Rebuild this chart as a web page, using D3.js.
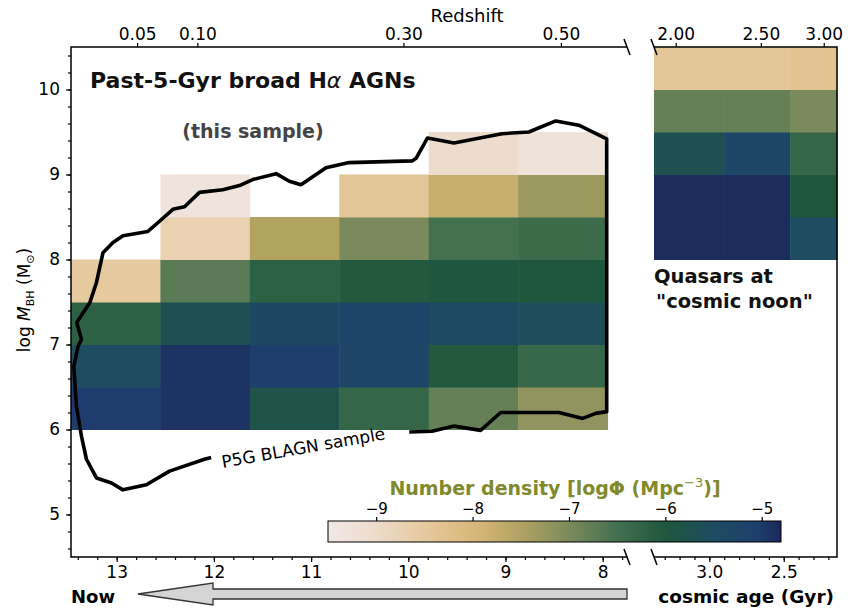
<!DOCTYPE html>
<html>
<head>
<meta charset="UTF-8">
<title></title>
<style>
  body { margin: 0; background: #fff; }
  svg text { font-family: "DejaVu Sans", sans-serif; }
  .axis path, .axis line { fill: none; stroke: #000; stroke-width: 1.2; }
  .axis text { font-size: 17px; fill: #000; }
  .minor path { display: none; }
  .minor line { stroke: #000; }
</style>
</head>
<body>
<script src="https://cdn.jsdelivr.net/npm/d3@7/dist/d3.min.js"></script>
<script>
// --- data ---------------------------------------------------------------
// main panel: bins in cosmic age (Gyr) and log M_BH
var ageEdges = [13.47, 12.55, 11.63, 10.71, 9.79, 8.87, 7.95];
var massEdges = [6.0, 6.5, 7.0, 7.5, 8.0, 8.5, 9.0, 9.5];
// log Phi per column (left -> right), rows from logM 6.0 upward, null = empty
var density = [
  [-5.0, -5.5, -6.2, -8.5, null, null, null],
  [-4.9, -4.9, -5.7, -6.7, -8.7, -9.3, null],
  [-5.8, -5.05, -5.35, -6.2, -7.5, null, null],
  [-6.3, -5.25, -5.2, -6.05, -7.0, -8.4, null],
  [-6.8, -6.05, -5.4, -5.95, -6.5, -7.75, -9.0],
  [-7.2, -6.35, -5.6, -6.0, -6.4, -7.3, -9.25]
];

// right panel: quasars at cosmic noon
var qsoAgeEdges = [3.372, 2.901, 2.457, 2.142];
var qsoMassEdges = [8.0, 8.5, 9.0, 9.5, 10.0, 10.5];
var qsoDensity = [
  [-4.85, -4.85, -5.7, -6.8, -8.4],
  [-4.85, -4.85, -5.3, -6.8, -8.4],
  [-5.5, -6.0, -6.3, -7.0, -8.3]
];

// redshift tick labels and the cosmic age they sit at
var zLabels = ["0.05", "0.10", "0.30", "0.50"];
var zAges = [12.79, 12.17, 10.05, 8.43];
var zLabelsQ = ["2.00", "2.50", "3.00"];
var zAgesQ = [3.226, 2.654, 2.231];

var ageTicks = [13, 12, 11, 10, 9, 8];
var ageTicksQ = [3.0, 2.5];
var massTicks = [5, 6, 7, 8, 9, 10];
var cbarTicks = [-9, -8, -7, -6, -5];

// P5G BLAGN sample contour (age, logM)
var contourAge = [9.99, 9.756, 9.53, 9.256, 9.05, 8.452, 8.205, 8.072, 7.959, 7.959,
  8.246, 8.483, 8.76, 9.037, 9.53, 9.802, 9.92, 9.961, 10.608, 10.847, 11.104, 11.224,
  11.36, 11.601, 11.737, 11.909, 12.148, 12.302, 12.422, 12.559, 12.679, 12.935, 13.038,
  13.141, 13.208, 13.277, 13.411, 13.362, 13.397, 13.441, 13.414, 13.362, 13.311, 13.208,
  13.054, 12.935, 12.695, 12.456, 12.097, 12.028];
var contourMass = [5.97, 5.98, 6.04, 5.99, 6.20, 6.20, 6.13, 6.19, 6.21, 9.42,
  9.58, 9.63, 9.50, 9.48, 9.37, 9.43, 9.19, 9.16, 9.14, 9.08, 8.88, 8.92,
  9.01, 8.94, 8.87, 8.82, 8.79, 8.62, 8.59, 8.45, 8.33, 8.28, 8.20,
  8.08, 7.73, 7.49, 7.26, 7.06, 6.98, 6.74, 6.27, 5.92, 5.65, 5.43,
  5.37, 5.29, 5.35, 5.51, 5.65, 5.67];

// colormap stops
var cmapVals = [-9.5, -9.0, -8.5, -8.0, -7.5, -7.0, -6.5, -6.0, -5.5, -5.0, -4.8];
var cmapCols = ["#f1e8e5", "#eddccb", "#e6c99f", "#d9b97b", "#b2a361", "#7b8a5c",
  "#437050", "#1f573c", "#1e4c60", "#1e3d6e", "#1a2858"];

// --- layout -------------------------------------------------------------
var W = 858, H = 610;
var svg = d3.select("body").append("svg").attr("width", W).attr("height", H);

var x = d3.scaleLinear().domain([13.47, 7.75]).range([71, 627]);
var xq = d3.scaleLinear().domain([3.372, 2.142]).range([654, 837]);
var y = d3.scaleLinear().domain([4.5, 10.5]).range([557, 47]);
var color = d3.scaleLinear().domain(cmapVals).range(cmapCols).interpolate(d3.interpolateRgb);

// heatmap cells
function drawCells(data, aEdges, mEdges, xs) {
  var cells = [];
  data.forEach(function(col, i) {
    col.forEach(function(v, j) {
      if (v !== null) cells.push({a0: aEdges[i], a1: aEdges[i + 1], m0: mEdges[j], m1: mEdges[j + 1], v: v});
    });
  });
  svg.append("g").selectAll("rect")
    .data(cells)
    .enter()
    .append("rect")
    .attr("x", function(d) { return xs(d.a0); })
    .attr("y", function(d) { return y(d.m1); })
    .attr("width", function(d) { return xs(d.a1) - xs(d.a0) + 0.5; })
    .attr("height", function(d) { return y(d.m0) - y(d.m1) + 0.5; })
    .attr("fill", function(d) { return color(d.v); });
}
drawCells(density, ageEdges, massEdges, x);
drawCells(qsoDensity, qsoAgeEdges, qsoMassEdges, xq);

// contour
var pts = contourAge.map(function(a, i) { return [a, contourMass[i]]; });
svg.append("path")
  .attr("d", d3.line().x(function(d) { return x(d[0]); }).y(function(d) { return y(d[1]); })(pts))
  .attr("fill", "none")
  .attr("stroke", "#000")
  .attr("stroke-width", 3.6)
  .attr("stroke-linejoin", "round");

svg.append("text")
  .attr("transform", "translate(" + x(11.07) + "," + (y(5.8) + 7) + ") rotate(-10)")
  .attr("text-anchor", "middle")
  .style("font-size", "17px")
  .text("P5G BLAGN sample");

// minor tick helper
function range(a, b, s) {
  var out = [];
  for (var v = a; v <= b + 1e-9; v += s) out.push(+v.toFixed(3));
  return out;
}

// left axis
svg.append("g").attr("class", "axis minor").attr("transform", "translate(71,0)")
  .call(d3.axisLeft(y).tickValues(range(4.6, 10.4, 0.2)).tickSize(3).tickFormat(""));
svg.append("g").attr("class", "axis").attr("transform", "translate(71,0)")
  .call(d3.axisLeft(y).tickValues(massTicks).tickSize(5).tickPadding(6).tickFormat(d3.format("d")))
  .select(".domain").remove();

// bottom axes
svg.append("g").attr("class", "axis minor").attr("transform", "translate(0,557)")
  .call(d3.axisBottom(x).tickValues(range(7.8, 13.4, 0.2)).tickSize(3).tickFormat(""));
svg.append("g").attr("class", "axis").attr("transform", "translate(0,557)")
  .call(d3.axisBottom(x).tickValues(ageTicks).tickSize(5).tickPadding(4).tickFormat(d3.format("d")))
  .select(".domain").remove();
svg.append("g").attr("class", "axis minor").attr("transform", "translate(0,557)")
  .call(d3.axisBottom(xq).tickValues(range(2.2, 3.3, 0.1)).tickSize(3).tickFormat(""));
svg.append("g").attr("class", "axis").attr("transform", "translate(0,557)")
  .call(d3.axisBottom(xq).tickValues(ageTicksQ).tickSize(5).tickPadding(4).tickFormat(d3.format(".1f")))
  .select(".domain").remove();

// top axes (redshift)
svg.append("g").attr("class", "axis").attr("transform", "translate(0,47)")
  .call(d3.axisTop(x).tickValues(zAges).tickSize(4).tickPadding(3)
    .tickFormat(function(d, i) { return zLabels[i]; }))
  .select(".domain").remove();
svg.append("g").attr("class", "axis").attr("transform", "translate(0,47)")
  .call(d3.axisTop(xq).tickValues(zAgesQ).tickSize(4).tickPadding(3)
    .tickFormat(function(d, i) { return zLabelsQ[i]; }))
  .select(".domain").remove();

// spines
var spines = svg.append("g").attr("stroke", "#000").attr("stroke-width", 1.5).attr("fill", "none");
spines.append("path").attr("d", "M627,47H71V557H627");
spines.append("path").attr("d", "M654,47H837V557H654");
// break marks
[627, 654].forEach(function(bx) {
  [47, 557].forEach(function(by) {
    spines.append("line").attr("x1", bx - 3).attr("y1", by - 8).attr("x2", bx + 3).attr("y2", by + 8);
  });
});

// axis titles
svg.append("text").attr("x", 467).attr("y", 22).attr("text-anchor", "middle")
  .style("font-size", "18px").text("Redshift");

var yl = svg.append("text").attr("transform", "translate(30,300) rotate(-90)")
  .attr("text-anchor", "middle").style("font-size", "17px");
yl.append("tspan").text("log ");
yl.append("tspan").style("font-style", "italic").text("M");
yl.append("tspan").attr("dy", 4).style("font-size", "11px").text("BH");
yl.append("tspan").attr("dy", -4).text(" (M");
yl.append("tspan").attr("dy", 4).style("font-size", "11px").text("\u2299");
yl.append("tspan").attr("dy", -4).text(")");

// annotations
var title = svg.append("text").attr("x", 90).attr("y", 88)
  .style("font-size", "22px").style("font-weight", "bold").attr("fill", "#111");
title.append("tspan").text("Past-5-Gyr broad H");
title.append("tspan").style("font-style", "italic").style("font-weight", "normal").text("\u03b1");
title.append("tspan").text(" AGNs");

svg.append("text").attr("x", 253).attr("y", 138).attr("text-anchor", "middle")
  .style("font-size", "19px").style("font-weight", "bold").attr("fill", "#444")
  .text("(this sample)");

svg.append("text").attr("x", 654).attr("y", 283)
  .style("font-size", "19.5px").style("font-weight", "bold").attr("fill", "#111").text("Quasars at");
svg.append("text").attr("x", 656).attr("y", 308)
  .style("font-size", "19.5px").style("font-weight", "bold").attr("fill", "#111").text("\"cosmic noon\"");

// colorbar
var cx = d3.scaleLinear().domain([-9.5, -4.8]).range([328, 781]);
var grad = svg.append("defs").append("linearGradient").attr("id", "cbar");
d3.range(0, 1.0001, 0.05).forEach(function(t) {
  var v = -9.5 + t * 4.7;
  grad.append("stop").attr("offset", t).attr("stop-color", color(v));
});
svg.append("rect").attr("x", 328).attr("y", 521).attr("width", 453).attr("height", 21)
  .attr("fill", "url(#cbar)").attr("stroke", "#000").attr("stroke-width", 1);
svg.append("g").attr("class", "axis").attr("transform", "translate(0,521)")
  .call(d3.axisTop(cx).tickValues(cbarTicks).tickSize(4).tickPadding(3)
    .tickFormat(function(d) { return "\u2212" + Math.abs(d); }))
  .call(function(g) { g.select(".domain").remove(); g.selectAll("text").style("font-size", "15px"); });

var cl = svg.append("text").attr("x", 555).attr("y", 495).attr("text-anchor", "middle")
  .style("font-size", "19px").style("font-weight", "bold").attr("fill", "#7f8a2c");
cl.append("tspan").text("Number density [log\u03a6 (Mpc");
cl.append("tspan").attr("dy", -8).style("font-size", "13px").style("font-weight", "normal").text("\u22123");
cl.append("tspan").attr("dy", 8).text(")]");

// bottom arrow and labels
var ay = 594;
svg.append("path")
  .attr("d", "M627," + (ay - 5) + "H213V" + (ay - 11) + "L138," + ay + "L213," + (ay + 11) + "V" + (ay + 5) + "H627Z")
  .attr("fill", "#d4d4d4").attr("stroke", "#333").attr("stroke-width", 1.3);
svg.append("text").attr("x", 71).attr("y", 603)
  .style("font-size", "18px").style("font-weight", "bold").text("Now");
svg.append("text").attr("x", 834).attr("y", 603).attr("text-anchor", "end")
  .style("font-size", "18.5px").style("font-weight", "bold").text("cosmic age (Gyr)");
</script>
</body>
</html>
